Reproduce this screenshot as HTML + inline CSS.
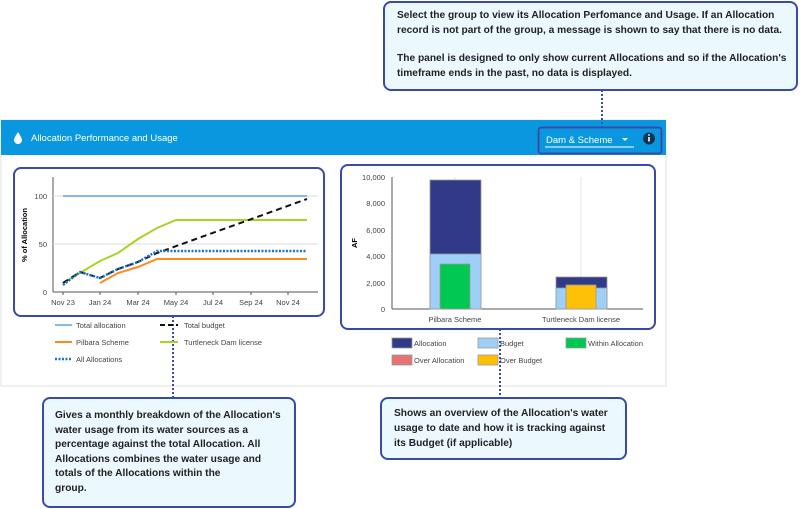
<!DOCTYPE html>
<html><head><meta charset="utf-8"><style>
body{margin:0;width:800px;height:509px;background:#fff;overflow:hidden;font-family:"Liberation Sans",sans-serif}
svg{display:block}
.t{font-family:"Liberation Sans",sans-serif;font-size:7.5px;fill:#444}
</style></head><body>
<svg width="800" height="509" viewBox="0 0 800 509" xmlns="http://www.w3.org/2000/svg">
<rect x="1" y="120" width="665" height="266" fill="#fff" stroke="#e2e2e2"/>
<rect x="1" y="120" width="665" height="35" fill="#0998e0"/>
<path d="M18 132 q-4 6 -4 8 a4 4 0 0 0 8 0 q0 -2 -4 -8z" fill="#fff"/>
<text x="31" y="141" font-size="9.5" fill="#fff" font-family="Liberation Sans">Allocation Performance and Usage</text>
<rect x="538.5" y="127.5" width="123" height="26" rx="3" fill="none" stroke="#3a4aa8" stroke-width="2"/>
<text x="546" y="143" font-size="9.5" fill="#fff" font-family="Liberation Sans">Dam &amp; Scheme</text>
<path d="M622 138 h6 l-3 3z" fill="#fff"/>
<line x1="545" y1="147" x2="634" y2="147" stroke="#fff" stroke-width="1"/>
<circle cx="649" cy="138.5" r="6" fill="#0b3552"/>
<rect x="648.2" y="137" width="1.6" height="4.5" fill="#fff"/><circle cx="649" cy="135" r="0.9" fill="#fff"/>
<g stroke="#3a4aa8" stroke-width="2" stroke-dasharray="2,2">
<line x1="602" y1="90" x2="602" y2="128"/>
<line x1="173" y1="316" x2="173" y2="398"/>
<line x1="500" y1="329" x2="500" y2="398"/>
</g>
<line x1="53" y1="177" x2="53" y2="292" stroke="#555"/>
<line x1="53" y1="292" x2="318" y2="292" stroke="#555"/>
<line x1="53" y1="244" x2="318" y2="244" stroke="#ddd"/>
<line x1="53" y1="196" x2="318" y2="196" stroke="#ddd"/>
<g class="t" text-anchor="end"><text x="47" y="199">100</text><text x="47" y="247">50</text><text x="47" y="295">0</text></g>
<g class="t" text-anchor="middle"><text x="63" y="305">Nov 23</text><text x="100" y="305">Jan 24</text><text x="138" y="305">Mar 24</text><text x="176" y="305">May 24</text><text x="213" y="305">Jul 24</text><text x="251" y="305">Sep 24</text><text x="288" y="305">Nov 24</text></g>
<g stroke="#555"><line x1="63" y1="292" x2="63" y2="295"/><line x1="100" y1="292" x2="100" y2="295"/><line x1="138" y1="292" x2="138" y2="295"/><line x1="176" y1="292" x2="176" y2="295"/><line x1="213" y1="292" x2="213" y2="295"/><line x1="251" y1="292" x2="251" y2="295"/><line x1="288" y1="292" x2="288" y2="295"/></g>
<text x="27" y="235" transform="rotate(-90 27 235)" text-anchor="middle" font-size="7.5" font-weight="bold" font-family="Liberation Sans">% of Allocation</text>
<g fill="none" stroke-width="2">
<line x1="63" y1="196" x2="307" y2="196" stroke="#88b8e8"/>
<polyline points="100,283 118,273 138,267 157,259 307,259" stroke="#ff8a1c"/>
<polyline points="63,283 100,261 118,253 138,239 157,228 176,220 307,220" stroke="#a8d420"/>
<polyline points="63,283 80,272 100,278 118,269 138,262 157,253 307,199" stroke="#111" stroke-dasharray="6,4"/>
<polyline points="63,285 80,272 100,278 118,269 138,262 157,251 307,251" stroke="#1a73c8" stroke-dasharray="2,1.5" stroke-width="2.5"/>
</g>
<g stroke-width="2"><line x1="55" y1="325" x2="72" y2="325" stroke="#88b8e8"/><line x1="160" y1="325" x2="178" y2="325" stroke="#111" stroke-dasharray="5,3"/>
<line x1="55" y1="342" x2="72" y2="342" stroke="#ff8a1c"/><line x1="160" y1="342" x2="178" y2="342" stroke="#a8d420"/>
<line x1="55" y1="359" x2="72" y2="359" stroke="#1a73c8" stroke-dasharray="2,1.5" stroke-width="2.5"/></g>
<g class="t"><text x="76" y="328">Total allocation</text><text x="184" y="328">Total budget</text><text x="76" y="345">Pilbara Scheme</text><text x="184" y="345">Turtleneck Dam license</text><text x="76" y="362">All Allocations</text></g>
<rect x="14" y="168" width="310" height="148" rx="7" fill="none" stroke="#3a4aa8" stroke-width="2"/>
<line x1="455" y1="177" x2="455" y2="309" stroke="#e4e4e4"/><line x1="581" y1="177" x2="581" y2="309" stroke="#e4e4e4"/>
<line x1="392" y1="177" x2="392" y2="309" stroke="#555"/>
<line x1="392" y1="309" x2="643" y2="309" stroke="#555"/>
<g class="t" text-anchor="end"><text x="385" y="180">10,000</text><text x="385" y="206">8,000</text><text x="385" y="233">6,000</text><text x="385" y="259">4,000</text><text x="385" y="286">2,000</text><text x="385" y="312">0</text></g>
<text x="357" y="243" transform="rotate(-90 357 243)" text-anchor="middle" font-size="7.5" font-weight="bold" font-family="Liberation Sans">AF</text>
<g stroke="#999" stroke-width="0.8">
<rect x="430" y="180" width="51" height="129" fill="#313a86"/>
<rect x="430" y="254" width="51" height="55" fill="#9ecff7"/>
<rect x="440" y="264" width="30" height="45" fill="#00c853"/>
<rect x="556" y="277" width="51" height="32" fill="#313a86"/>
<rect x="556" y="288" width="51" height="21" fill="#9ecff7"/>
<rect x="566" y="285" width="30" height="24" fill="#ffc107"/>
</g>
<g class="t" text-anchor="middle"><text x="455" y="322">Pilbara Scheme</text><text x="581" y="322">Turtleneck Dam license</text></g>
<rect x="341" y="165" width="314" height="164" rx="7" fill="none" stroke="#3a4aa8" stroke-width="2"/>
<g stroke="#999" stroke-width="0.8"><rect x="392" y="338" width="20" height="10" fill="#313a86"/><rect x="478" y="338" width="20" height="10" fill="#9ecff7"/><rect x="566" y="338" width="20" height="10" fill="#00c853"/><rect x="392" y="355" width="20" height="10" fill="#e57373"/><rect x="478" y="355" width="20" height="10" fill="#ffc107"/></g>
<g class="t"><text x="414" y="346">Allocation</text><text x="500" y="346">Budget</text><text x="588" y="346">Within Allocation</text><text x="414" y="363">Over Allocation</text><text x="500" y="363">Over Budget</text></g>
<rect x="384" y="2" width="413" height="88" rx="7" fill="#ebf8fe" stroke="#3a4aa8" stroke-width="2"/>
<g style="font-family:'Liberation Sans',sans-serif;font-size:10.2px;font-weight:bold;fill:#222">
<text x="397" y="18">Select the group to view its Allocation Perfomance and Usage. If an Allocation</text>
<text x="397" y="33">record is not part of the group, a message is shown to say that there is no data.</text>
<text x="397" y="61">The panel is designed to only show current Allocations and so if the Allocation's</text>
<text x="397" y="76">timeframe ends in the past, no data is displayed.</text>
</g>
<rect x="43" y="398" width="252" height="109" rx="7" fill="#ebf8fe" stroke="#3a4aa8" stroke-width="2"/>
<g style="font-family:'Liberation Sans',sans-serif;font-size:10.2px;font-weight:bold;fill:#222">
<text x="55" y="418">Gives a monthly breakdown of the Allocation's</text>
<text x="55" y="433">water usage from its water sources as a</text>
<text x="55" y="447">percentage against the total Allocation. All</text>
<text x="55" y="462">Allocations combines the water usage and</text>
<text x="55" y="476">totals of the Allocations within the</text>
<text x="55" y="491">group.</text>
</g>
<rect x="381" y="398" width="245" height="61" rx="7" fill="#ebf8fe" stroke="#3a4aa8" stroke-width="2"/>
<g style="font-family:'Liberation Sans',sans-serif;font-size:10.2px;font-weight:bold;fill:#222">
<text x="394" y="416">Shows an overview of the Allocation's water</text>
<text x="394" y="431">usage to date and how it is tracking against</text>
<text x="394" y="446">its Budget (if applicable)</text>
</g>
</svg>
</body></html>
